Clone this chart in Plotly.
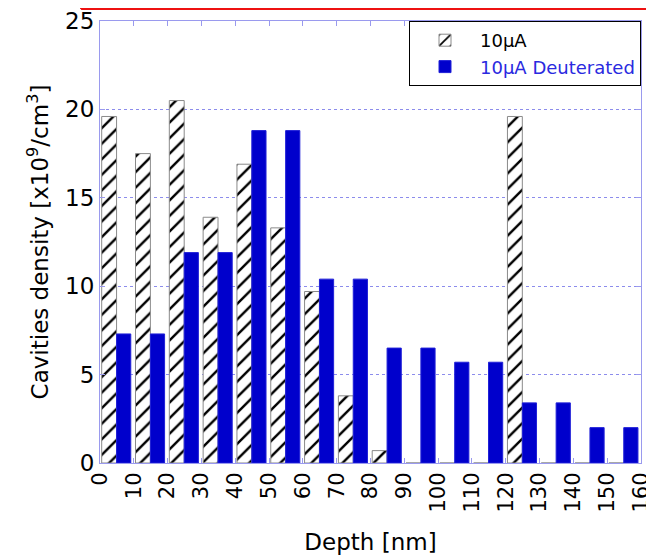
import plotly.graph_objects as go

# depth bins [nm] and cavity densities [x10^9/cm^3]
depth = [0, 10, 20, 30, 40, 50, 60, 70, 80, 90, 100, 110, 120, 130, 140, 150]
dens_10uA = [19.6, 17.5, 20.5, 13.9, 16.9, 13.3, 9.7, 3.8, 0.7, 0, 0, 0, 19.6, 0, 0, 0]
dens_10uA_deut = [7.3, 7.3, 11.9, 11.9, 18.8, 18.8, 10.4, 10.4, 6.5, 6.5, 5.7, 5.7, 3.4, 3.4, 2.0, 2.0]
x_ticks = list(range(0, 161, 10))

AXIS_COL = "#9a9aee"
GRID_COL = "#8c8cec"
FONT = "DejaVu Sans, Liberation Sans, Arial"

fig = go.Figure()

fig.add_trace(go.Bar(
    x=depth, y=dens_10uA, name="10μA",
    offset=0.5, width=4.4,
    marker=dict(color="white", line=dict(color="#8a8a8a", width=1),
                pattern=dict(shape="/", fgcolor="#000000", bgcolor="white",
                             fgopacity=1, fillmode="replace",
                             size=11, solidity=0.22)),
))
fig.add_trace(go.Bar(
    x=depth, y=dens_10uA_deut,
    name="<span style='color:#2a2ae0'>10μA Deuterated</span>",
    offset=4.9, width=4.2,
    marker=dict(color="#0000cc", line=dict(color="#2020d8", width=1)),
))

# stray red frame line at the top of the image
fig.add_shape(type="line", xref="paper", yref="paper",
              x0=-0.035, x1=1.05, y0=1.027, y1=1.027,
              line=dict(color="#ee1111", width=2))
fig.add_shape(type="line", xref="paper", yref="paper",
              x0=-0.035, x1=-0.035, y0=1.027, y1=1.05,
              line=dict(color="#ee1111", width=2))

# the page body adds 8px around the figure, so the figure is 8px smaller
fig.update_layout(
    width=646, height=548,
    margin=dict(l=92, r=13, t=13, b=93),
    barmode="overlay",
    plot_bgcolor="white", paper_bgcolor="white",
    font=dict(family=FONT, color="black"),
    showlegend=True,
    legend=dict(x=1, y=1, xanchor="right", yanchor="top",
                bordercolor="black", borderwidth=1, bgcolor="white",
                font=dict(size=18), itemwidth=60, tracegroupgap=0),
)

fig.update_xaxes(
    range=[0, 160], tickvals=x_ticks, tickangle=-90,
    tickfont=dict(size=21),
    title=dict(text="Depth [nm]", font=dict(size=23), standoff=22),
    showline=True, linecolor=AXIS_COL, linewidth=1, mirror="ticks",
    ticks="inside", ticklen=5, tickcolor=AXIS_COL,
    showgrid=False, zeroline=False, automargin=False,
)
fig.update_yaxes(
    range=[0, 25], tickvals=[0, 5, 10, 15, 20, 25],
    tickfont=dict(size=23),
    title=dict(text="Cavities density [x10<sup>9</sup>/cm<sup>3</sup>]",
               font=dict(size=23), standoff=10),
    showline=True, linecolor=AXIS_COL, linewidth=1, mirror="ticks",
    ticks="inside", ticklen=5, tickcolor=AXIS_COL,
    showgrid=True, gridcolor=GRID_COL, griddash="dot", gridwidth=1,
    zeroline=False, automargin=False,
)

fig.write_html("out.html")
